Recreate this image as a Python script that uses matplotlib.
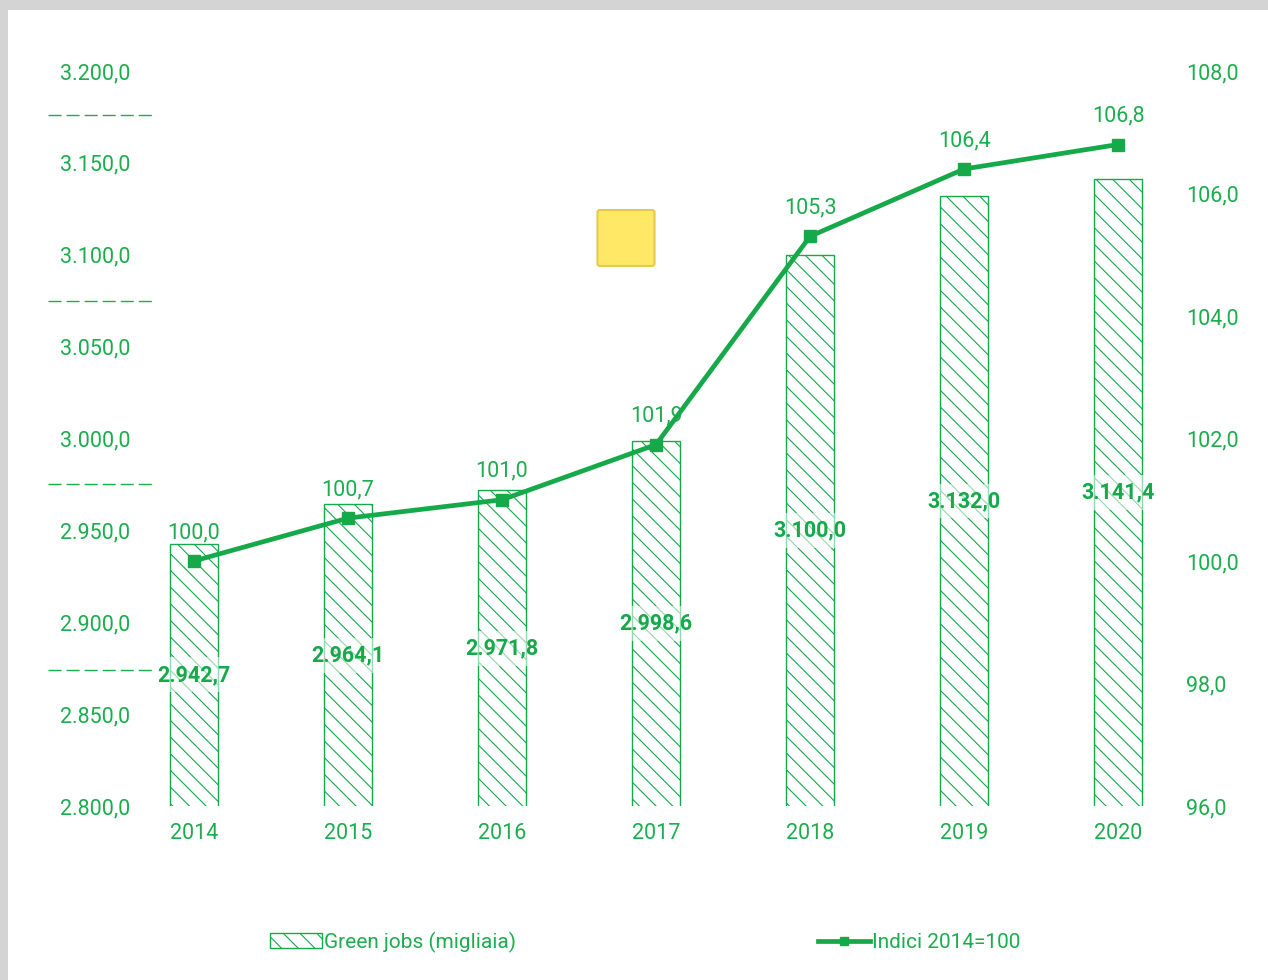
import matplotlib.pyplot as plt
import numpy as np
from matplotlib.patches import Rectangle, FancyBboxPatch
from matplotlib.lines import Line2D
import matplotlib.transforms as mtransforms

plt.rcParams['font.family'] = ['Roboto', 'DejaVu Sans']
plt.rcParams['hatch.linewidth'] = 0.8
plt.rcParams['hatch.color'] = '#16a94a'

# data
years = ['2014', '2015', '2016', '2017', '2018', '2019', '2020']
green_jobs = [2942.7, 2964.1, 2971.8, 2998.6, 3100.0, 3132.0, 3141.4]
indici = [100.0, 100.7, 101.0, 101.9, 105.3, 106.4, 106.8]
left_ticks = [2800, 2850, 2900, 2950, 3000, 3050, 3100, 3150, 3200]
right_ticks = [96, 98, 100, 102, 104, 106, 108]
dash_levels = [3176, 3075, 2975, 2874]

GREEN = '#16a94a'
TEXT_GREEN = '#1bad4e'


def it_fmt(v):
    s = f'{v:,.1f}'
    return s.replace(',', 'X').replace('.', ',').replace('X', '.')


fig = plt.figure(figsize=(12.68, 9.80), dpi=100)
fig.patch.set_facecolor('white')

# grey frame on top / left
fig.patches.append(Rectangle((0, 1 - 10 / 980), 1, 10 / 980, transform=fig.transFigure,
                             facecolor='#d4d4d4', edgecolor='none', zorder=0))
fig.patches.append(Rectangle((0, 0), 8 / 1268, 1, transform=fig.transFigure,
                             facecolor='#d4d4d4', edgecolor='none', zorder=0))

ax = fig.add_axes([140 / 1268, 174 / 980, 1032 / 1268, 735 / 980])
ax2 = ax.twinx()

x = np.arange(len(years))

ax.bar(x, green_jobs, width=0.31, color='white', edgecolor=GREEN, linewidth=1,
       hatch='\\\\', zorder=2)

ax.set_ylim(2800, 3200)
ax.set_xlim(-0.35, 6.35)
ax.set_yticks(left_ticks, [it_fmt(v) for v in left_ticks])
ax.set_xticks(x, years)
ax.tick_params(axis='both', length=0, colors=TEXT_GREEN, labelsize=15.5)
ax.tick_params(axis='y', pad=7)
ax.tick_params(axis='x', pad=12)

# bar value labels in the middle of the bars
for xi, v in zip(x, green_jobs):
    ax.text(xi, (v + 2800) / 2, it_fmt(v), ha='center', va='center',
            fontsize=15.5, fontweight='bold', color=GREEN, zorder=5,
            bbox=dict(boxstyle='square,pad=0.3', facecolor='white', alpha=0.55, edgecolor='none'))

# decorative dashes on the left
trans = mtransforms.blended_transform_factory(fig.transFigure, ax.transData)
for lvl in dash_levels:
    fig.lines.append(Line2D([48 / 1268, 156 / 1268], [lvl, lvl], transform=trans,
                            color=TEXT_GREEN, linewidth=1, linestyle=(0, (9.4, 3.6))))

ax2.plot(x, indici, color=GREEN, linewidth=3.4, marker='s', markersize=9, zorder=4)
ax2.set_ylim(96, 108)
ax2.set_yticks(right_ticks, [it_fmt(v) for v in right_ticks])
ax2.tick_params(axis='y', length=0, colors=TEXT_GREEN, labelsize=15.5, pad=10)
for xi, v in zip(x, indici):
    ax2.annotate(it_fmt(v), (xi, v), xytext=(0, 13), textcoords='offset points',
                 ha='center', va='bottom', fontsize=15.5, color=TEXT_GREEN)

for a in (ax, ax2):
    for spine in a.spines.values():
        spine.set_visible(False)
    a.patch.set_visible(False)

# yellow rounded square
fig.patches.append(FancyBboxPatch((600 / 1268, (980 - 264) / 980), 52 / 1268, 52 / 980,
                                  boxstyle='round,pad=0.002', transform=fig.transFigure,
                                  facecolor='#ffe866', edgecolor='#e6c94f', linewidth=1.5))

# legend
h1 = Rectangle((0, 0), 1, 1, facecolor='white', edgecolor=GREEN, hatch='\\\\', linewidth=1)
h2 = Line2D([], [], color=GREEN, linewidth=3.4, marker='s', markersize=6)
leg = fig.legend([h1, h2], ['Green jobs (migliaia)', 'Indici 2014=100'],
                 loc='center', bbox_to_anchor=(645 / 1268, 1 - 942 / 980), ncol=2,
                 frameon=False, fontsize=15, handlelength=2.5, handletextpad=0.1,
                 columnspacing=14.5)
for t in leg.get_texts():
    t.set_color(TEXT_GREEN)

fig.savefig('out.png', dpi=100)
